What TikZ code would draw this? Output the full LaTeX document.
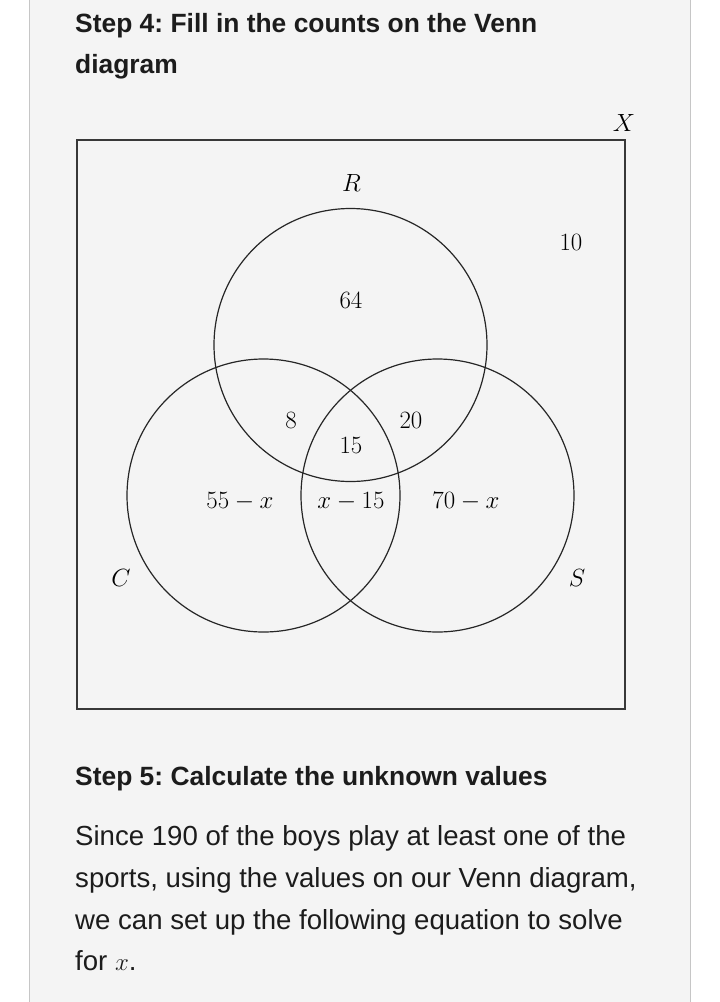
\documentclass[tikz,border=0pt]{standalone}
\usepackage{fontspec}
\setmainfont{Liberation Sans}
\usetikzlibrary{positioning}
\definecolor{panel}{HTML}{F4F4F4}
\definecolor{rule}{HTML}{C6C6C6}
\definecolor{boxline}{HTML}{383838}
\definecolor{ink}{HTML}{1C1C1C}
\frenchspacing

\begin{document}
\begin{tikzpicture}[x=1pt, y=-1pt,
        venn/.style={circle, draw=black!85, line width=1.2pt, minimum size=273pt, inner sep=0pt},
        count/.style={inner sep=0pt, font=\fontsize{24}{28}\selectfont},
        head/.style={anchor=base west, inner sep=0pt, text=ink, font=\fontsize{26.4}{38}\selectfont\bfseries},
        body/.style={anchor=base west, inner sep=0pt, text=ink, font=\fontsize{27.6}{42}\selectfont}]
        \useasboundingbox (0,0) rectangle (720,1002);
        \fill[panel] (29,0) rectangle (691,1002);
        \draw[rule, line width=1.2pt] (29.5,0) -- (29.5,1002) (690.5,0) -- (690.5,1002);

        \node[head] at (75, 32)(step4a){Step 4: Fill in the counts on the Venn};
        \node[head] at (75, 73)(step4b){diagram};

        \node[draw=boxline, line width=1.3pt, minimum width=548pt, minimum height=569pt, inner sep=0pt] at (351, 424.5)(X){};
        \node[venn] at (350.5, 345)(R){};
        \node[venn] at (263.5, 495.5)(C){};
        \node[venn] at (437.5, 495.5)(S){};

        \node[count] at (624, 123)(lX){$X$};
        \node[count] at (351.5, 183)(lR){$R$};
        \node[count] at (121, 578)(lC){$C$};
        \node[count] at (577, 578)(lS){$S$};

        \node[count] at (571, 242)(n0){$10$};
        \node[count] at (351, 300)(nR){$64$};
        \node[count] at (291, 420)(nRC){$8$};
        \node[count] at (411, 420)(nRS){$20$};
        \node[count] at (351, 445)(nRCS){$15$};
        \node[count] at (240, 502)(nC){$55-x$};
        \node[count] at (351, 502)(nCS){$x-15$};
        \node[count] at (466, 502)(nS){$70-x$};

        \node[head] at (75, 785)(step5){Step 5: Calculate the unknown values};
        \node[body] at (75, 845)(line1){Since 190 of the boys play at least one of the};
        \node[body] at (75, 887)(line2){sports, using the values on our Venn diagram,};
        \node[body] at (75, 929)(line3){we can set up the following equation to solve};
        \node[body] at (75, 970)(line4){for $x$.};
    \end{tikzpicture}
\end{document}
